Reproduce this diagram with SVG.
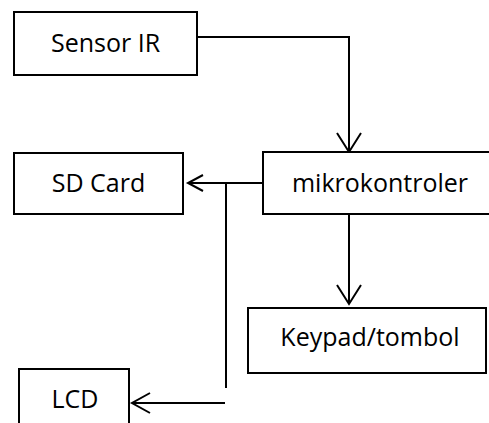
<svg xmlns="http://www.w3.org/2000/svg" width="489" height="423" viewBox="0 0 489 423">
<style>
.box{fill:#fff;stroke:#000;stroke-width:2}
.lbl{font-family:"Open Sans","Liberation Sans",sans-serif;font-size:25px;fill:#000;text-anchor:middle}
.ln{fill:none;stroke:#000;stroke-width:2}
</style>
<rect width="489" height="423" fill="#fff"/>
<g id="connectors">
<path class="ln" d="M197 37 H349 V152"/>
<path class="ln" d="M337 133 L349 152 L361 133"/>
<path class="ln" d="M262 183 H188"/>
<path class="ln" d="M203 175 L188 183 L203 191"/>
<path class="ln" d="M226 183 V388"/>
<path class="ln" d="M225 403 H132"/>
<path class="ln" d="M150 393 L132 403 L150 413"/>
<path class="ln" d="M349 214 V304"/>
<path class="ln" d="M337 285 L349 304 L361 285"/>
</g>
<g id="sensor-ir">
<rect class="box" x="14" y="12" width="183" height="63"/>
<text class="lbl" x="105.5" y="52">Sensor IR</text>
</g>
<g id="mikrokontroler">
<rect class="box" x="263" y="152" width="240" height="62"/>
<text class="lbl" x="380" y="192">mikrokontroler</text>
</g>
<g id="sd-card">
<rect class="box" x="14" y="153" width="169" height="61"/>
<text class="lbl" x="98.5" y="192">SD Card</text>
</g>
<g id="keypad">
<rect class="box" x="248" y="308" width="238" height="65"/>
<text class="lbl" x="370" y="346">Keypad/tombol</text>
</g>
<g id="lcd">
<rect class="box" x="19" y="369" width="110" height="70"/>
<text class="lbl" x="75" y="408">LCD</text>
</g>
</svg>
